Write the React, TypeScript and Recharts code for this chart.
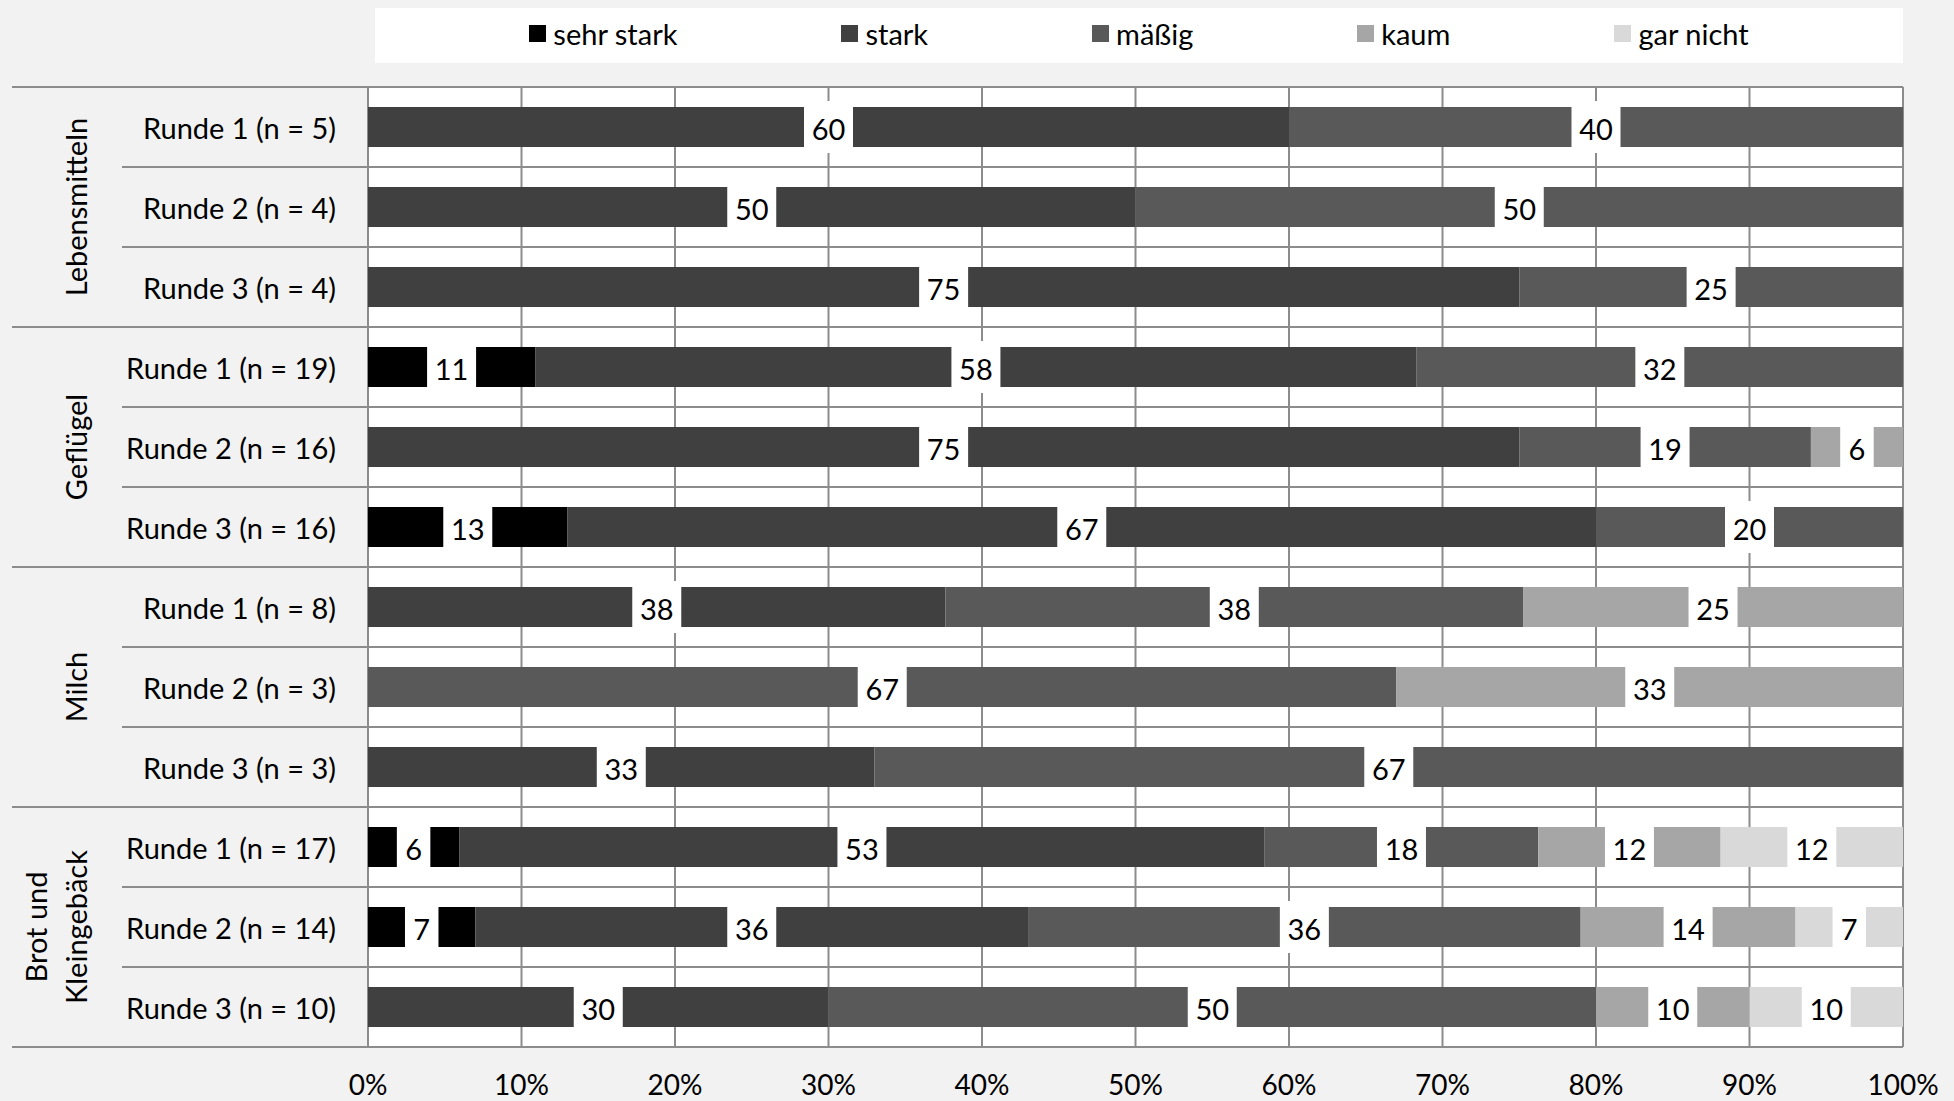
import React from 'react';
import { BarChart, Bar, XAxis, YAxis, CartesianGrid, Legend, LabelList } from 'recharts';

const rowLabels = [
  'Runde 1 (n = 5)', 'Runde 2 (n = 4)', 'Runde 3 (n = 4)',
  'Runde 1 (n = 19)', 'Runde 2 (n = 16)', 'Runde 3 (n = 16)',
  'Runde 1 (n = 8)', 'Runde 2 (n = 3)', 'Runde 3 (n = 3)',
  'Runde 1 (n = 17)', 'Runde 2 (n = 14)', 'Runde 3 (n = 10)',
];
const groupNames = [['Lebensmitteln'], ['Geflügel'], ['Milch'], ['Brot und', 'Kleingebäck']];
const rowsPerGroup = 3;

const sehrStark = [0, 0, 0, 11, 0, 13, 0, 0, 0, 6, 7, 0];
const stark = [60, 50, 75, 58, 75, 67, 38, 0, 33, 53, 36, 30];
const maessig = [40, 50, 25, 32, 19, 20, 38, 67, 67, 18, 36, 50];
const kaum = [0, 0, 0, 0, 6, 0, 25, 33, 0, 12, 14, 10];
const garNicht = [0, 0, 0, 0, 0, 0, 0, 0, 0, 12, 7, 10];

const seriesKeys = ['sehrStark', 'stark', 'maessig', 'kaum', 'garNicht'];
const seriesNames = ['sehr stark', 'stark', 'mäßig', 'kaum', 'gar nicht'];
const seriesColors = ['#000000', '#404040', '#595959', '#a6a6a6', '#d9d9d9'];

const xTicks = [0, 0.1, 0.2, 0.3, 0.4, 0.5, 0.6, 0.7, 0.8, 0.9, 1];

const data = rowLabels.map((label, i) => ({
  label,
  sehrStark: sehrStark[i],
  stark: stark[i],
  maessig: maessig[i],
  kaum: kaum[i],
  garNicht: garNicht[i],
}));

// layout
const W = 1954;
const H = 1101;
const TOP = 87;
const RIGHT = 51;
const Y_W = 368;
const X_H = 54;
const ROW_H = (H - TOP - X_H) / rowLabels.length;
const GROUP_X = 12;
const ROW_X = 122;
const LABEL_RIGHT = 336;
const GRID = '#8c8c8c';
const FONT = 29;

const YTick = (props: any) => {
  const { y, payload, index } = props;
  const half = ROW_H / 2;
  const plotRight = W - RIGHT;
  const lastInGroup = index % rowsPerGroup === rowsPerGroup - 1;
  const lines = index % rowsPerGroup === 1 ? groupNames[Math.floor(index / rowsPerGroup)] : null;
  return (
    <g>
      {index === 0 && (
        <line x1={GROUP_X} x2={plotRight} y1={y - half} y2={y - half} stroke={GRID} strokeWidth={2} />
      )}
      <line
        x1={lastInGroup ? GROUP_X : ROW_X}
        x2={plotRight}
        y1={y + half}
        y2={y + half}
        stroke={GRID}
        strokeWidth={2}
      />
      <text x={LABEL_RIGHT} y={y} textAnchor="end" dominantBaseline="central" fontSize={FONT} fill="#000">
        {payload.value}
      </text>
      {lines &&
        lines.map((t, k) => {
          const cx = 75 - (lines.length - 1 - k) * 40;
          return (
            <text
              key={k}
              x={cx}
              y={y}
              transform={`rotate(-90, ${cx}, ${y})`}
              textAnchor="middle"
              dominantBaseline="central"
              fontSize={FONT}
              fill="#000"
            >
              {t}
            </text>
          );
        })}
    </g>
  );
};

const XTick = (props: any) => {
  const { x, y, payload } = props;
  return (
    <text x={x} y={y + 37} textAnchor="middle" dominantBaseline="central" fontSize={FONT - 1} fill="#000">
      {`${Math.round(payload.value * 100)}%`}
    </text>
  );
};

const SegmentLabel = (props: any) => {
  const { x, y, width, height, value } = props;
  if (!value) return null;
  const cx = x + width / 2;
  const cy = y + height / 2;
  const bw = String(value).length * 15.5 + 18;
  const bh = 52;
  return (
    <g>
      <rect x={cx - bw / 2} y={cy - bh / 2} width={bw} height={bh} fill="#ffffff" />
      <text x={cx} y={cy + 1} textAnchor="middle" dominantBaseline="central" fontSize={FONT} fill="#000">
        {value}
      </text>
    </g>
  );
};

const LegendBox = () => (
  <div
    style={{
      display: 'flex',
      justifyContent: 'center',
      alignItems: 'center',
      gap: 164,
      height: '100%',
      marginTop: -2,
      fontSize: FONT,
      color: '#000',
    }}
  >
    {seriesNames.map((n, i) => (
      <div key={n} style={{ display: 'flex', alignItems: 'center', gap: 7 }}>
        <span style={{ width: 17, height: 17, background: seriesColors[i], display: 'inline-block' }} />
        <span>{n}</span>
      </div>
    ))}
  </div>
);

export default function App() {
  return (
    <div
      style={{
        position: 'absolute',
        left: 0,
        top: 0,
        width: W,
        height: H,
        background: '#f2f2f2',
        fontFamily: 'Lato, sans-serif',
      }}
    >
      <BarChart
        width={W}
        height={H}
        data={data}
        layout="vertical"
        stackOffset="expand"
        barSize={40}
        margin={{ top: TOP, right: RIGHT, bottom: 0, left: 0 }}
      >
        <CartesianGrid
          stroke={GRID}
          strokeWidth={2}
          fill="#ffffff"
          fillOpacity={1}
          horizontalCoordinatesGenerator={({ offset }: any) =>
            rowLabels.map((_, i) => offset.top + i * ROW_H).concat(offset.top + offset.height)
          }
        />
        <XAxis
          type="number"
          domain={[0, 1]}
          ticks={xTicks}
          height={X_H}
          tickSize={0}
          tickMargin={0}
          axisLine={false}
          tickLine={false}
          tick={<XTick />}
        />
        <XAxis
          xAxisId="top"
          orientation="top"
          type="number"
          domain={[0, 1]}
          ticks={xTicks}
          height={0}
          tickSize={8}
          axisLine={false}
          tickLine={{ stroke: GRID, strokeWidth: 2 }}
          tickFormatter={() => ''}
        />
        <YAxis
          type="category"
          dataKey="label"
          width={Y_W}
          axisLine={false}
          tickLine={false}
          interval={0}
          tick={<YTick />}
        />
        <Legend
          layout="horizontal"
          verticalAlign="middle"
          align="center"
          content={<LegendBox />}
          wrapperStyle={{ position: 'absolute', left: 375, top: 8, width: 1528, height: 55, background: '#ffffff' }}
        />
        {seriesKeys.map((k, i) => (
          <Bar
            key={k}
            dataKey={k}
            name={seriesNames[i]}
            stackId="a"
            fill={seriesColors[i]}
            isAnimationActive={false}
          >
            <LabelList dataKey={k} content={<SegmentLabel />} />
          </Bar>
        ))}
      </BarChart>
    </div>
  );
}
